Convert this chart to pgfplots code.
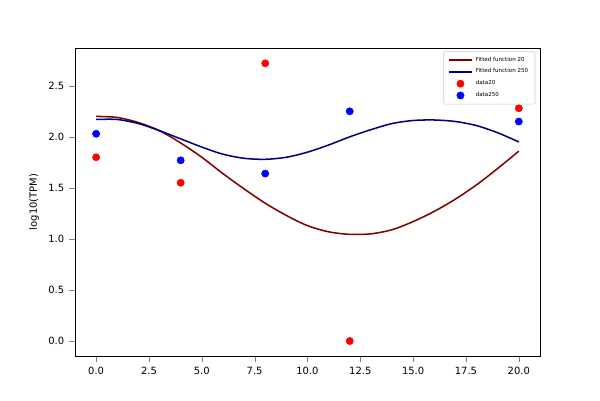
\documentclass[border=0pt]{standalone}
\usepackage{pgfplots}
\pgfplotsset{compat=1.18}
\usepackage{fontspec}
\setmainfont{DejaVu Sans}
\begin{document}
\begin{tikzpicture}
\path (-54.2pt,-31.8pt) rectangle (379.4pt,257.3pt);
\begin{axis}[at={(0,0)},anchor=south west,scale only axis,width=336pt,height=222.6pt,
xmin=-1,xmax=21,ymin=-0.147,ymax=2.87,
xtick={0,2.5,...,20},ytick={0,0.5,...,2.5},
xticklabel style={/pgf/number format/.cd,fixed,fixed zerofill,precision=1},
yticklabel style={/pgf/number format/.cd,fixed,fixed zerofill,precision=1},
/pgf/number format/assume math mode=true,
tick label style={font=\fontsize{7.2}{8}\selectfont},
ylabel={log10(TPM)},ylabel style={font=\fontsize{7.2}{8}\selectfont},
tick align=outside,tick pos=left,
legend style={at={(0.99,0.99)},anchor=north east,font=\fontsize{4}{5}\selectfont,draw=black!20,rounded corners=1pt},
legend cell align=left]
\addplot[color={rgb,1:red,0.5;green,0;blue,0},line width=1.1pt,smooth] coordinates {(0,2.20)(1,2.19)(2,2.14)(3,2.06)(4,1.94)(5,1.80)(6,1.64)(7,1.49)(8,1.35)(9,1.23)(10,1.13)(11,1.07)(12,1.045)(13,1.05)(14,1.09)(15,1.17)(16,1.27)(17,1.39)(18,1.53)(19,1.69)(20,1.86)};
\addlegendentry{Fitted function 20}
\addplot[color={rgb,1:red,0;green,0;blue,0.5},line width=1.1pt,smooth] coordinates {(0,2.17)(1,2.17)(2,2.13)(3,2.06)(4,1.98)(5,1.90)(6,1.83)(7,1.79)(8,1.78)(9,1.80)(10,1.85)(11,1.92)(12,2.00)(13,2.07)(14,2.13)(15,2.16)(16,2.165)(17,2.15)(18,2.11)(19,2.04)(20,1.95)};
\addlegendentry{Fitted function 250}
\addplot[only marks,mark=*,mark size=2.6pt,color=red] coordinates {(0,1.80)(4,1.55)(8,2.72)(12,0.0)(20,2.28)};
\addlegendentry{data20}
\addplot[only marks,mark=*,mark size=2.6pt,color=blue] coordinates {(0,2.03)(4,1.77)(8,1.64)(12,2.25)(20,2.15)};
\addlegendentry{data250}
\end{axis}
\end{tikzpicture}
\end{document}
